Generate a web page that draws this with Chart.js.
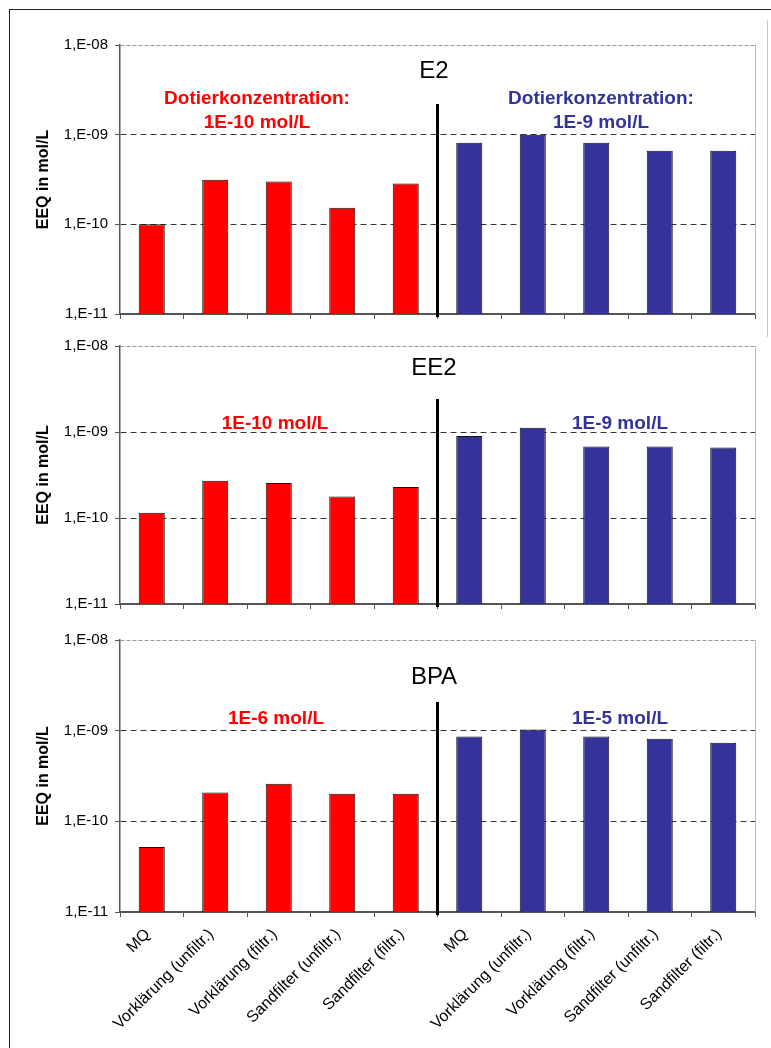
<!DOCTYPE html>
<html>
<head>
<meta charset="utf-8">
<script src="https://cdn.jsdelivr.net/npm/chart.js@4"></script>
<style>
  body { margin: 0; background: #fff; }
  #wrap { position: relative; width: 771px; height: 1048px; overflow: hidden; }
  canvas { position: absolute; left: 0; }
  .frame { position: absolute; left: 9px; top: 9px; width: 800px; height: 1100px;
           border-left: 1.5px solid #222; border-top: 1.5px solid #222; }
  .side { position: absolute; left: 767px; top: 20px; width: 0; height: 317px; border-left: 1px solid #c8c8c8; }
</style>
</head>
<body>
<div id="wrap">
  <div class="frame"></div>
  <div class="side"></div>
  <canvas id="c1" width="771" height="330" style="top:0"></canvas>
  <canvas id="c2" width="771" height="290" style="top:330px"></canvas>
  <canvas id="c3" width="771" height="428" style="top:620px"></canvas>
</div>
<script>
// Data
let categories = ["MQ", "Vorklärung (unfiltr.)", "Vorklärung (filtr.)", "Sandfilter (unfiltr.)", "Sandfilter (filtr.)",
                  "MQ", "Vorklärung (unfiltr.)", "Vorklärung (filtr.)", "Sandfilter (unfiltr.)", "Sandfilter (filtr.)"];
let e2Values  = [1.0e-10, 3.15e-10, 3.0e-10, 1.53e-10, 2.85e-10, 8.1e-10, 1.0e-9, 8.1e-10, 6.6e-10, 6.6e-10];
let ee2Values = [1.15e-10, 2.71e-10, 2.55e-10, 1.78e-10, 2.3e-10, 9.0e-10, 1.12e-9, 6.8e-10, 6.8e-10, 6.6e-10];
let bpaValues = [5.2e-11, 2.08e-10, 2.6e-10, 2.01e-10, 2.01e-10, 8.6e-10, 1.03e-9, 8.6e-10, 8.15e-10, 7.35e-10];
let yTickValues = [1e-11, 1e-10, 1e-9, 1e-8];
let yTickLabels = ["1,E-11", "1,E-10", "1,E-09", "1,E-08"];

let red = "#ff0000";
let blue = "#333399";
let barColors = categories.map((c, i) => i < 5 ? red : blue);
let FONT = "'Liberation Sans', Arial, sans-serif";

// titles, dosing texts and the black divider between the two groups
const panelText = {
    id: "panelText",
    afterDatasetsDraw(chart, args, o) {
        const ctx = chart.ctx;
        const a = chart.chartArea;
        const x = chart.scales.x;
        ctx.save();
        // light plot border on the right
        ctx.strokeStyle = "#bbb";
        ctx.lineWidth = 1;
        ctx.beginPath();
        ctx.moveTo(a.right + 0.5, a.top);
        ctx.lineTo(a.right + 0.5, a.bottom);
        ctx.stroke();
        // divider
        const xd = (x.getPixelForValue(4) + x.getPixelForValue(5)) / 2;
        ctx.strokeStyle = "#000";
        ctx.lineWidth = 3;
        ctx.beginPath();
        ctx.moveTo(xd, o.dividerTop);
        ctx.lineTo(xd, a.bottom + 3);
        ctx.stroke();
        ctx.textAlign = "center";
        ctx.textBaseline = "middle";
        ctx.fillStyle = "#000";
        ctx.font = "24px " + FONT;
        ctx.fillText(o.title, o.titleX, o.titleY);
        ctx.font = "bold 19px " + FONT;
        ctx.fillStyle = red;
        o.redLines.forEach((t, i) => ctx.fillText(t, o.redX, o.textY + i * 23.5));
        ctx.fillStyle = blue;
        o.blueLines.forEach((t, i) => ctx.fillText(t, o.blueX, o.textY + i * 23.5));
        ctx.restore();
    }
};

function makePanel(id, values, topPad, xHeight, showLabels, text) {
    new Chart(document.getElementById(id), {
        type: "bar",
        data: {
            labels: categories,
            datasets: [{
                data: values,
                backgroundColor: barColors,
                borderColor: "#111",
                borderWidth: 1,
                borderSkipped: "bottom",
                categoryPercentage: 1,
                barPercentage: 0.41
            }]
        },
        options: {
            responsive: false,
            animation: false,
            layout: { padding: { left: 10, right: 16, top: topPad, bottom: 0 } },
            plugins: { legend: { display: false }, tooltip: { enabled: false }, panelText: text },
            scales: {
                x: {
                    afterFit: s => { s.height = xHeight; },
                    grid: { display: true, drawOnChartArea: false, drawTicks: true, tickLength: 5, tickColor: "#555", offset: true },
                    border: { display: true, color: "#555", width: 2 },
                    ticks: {
                        display: showLabels,
                        autoSkip: false,
                        minRotation: 45,
                        maxRotation: 45,
                        padding: 8,
                        labelOffset: -4,
                        color: "#000",
                        font: { family: FONT, size: 16 }
                    }
                },
                y: {
                    type: "logarithmic",
                    min: 1e-11,
                    max: 1e-8,
                    afterFit: s => { s.width = 110; },
                    afterBuildTicks: s => { s.ticks = yTickValues.map(v => ({ value: v })); },
                    grid: {
                        color: c => c.tick && c.tick.value === 1e-11 ? "rgba(0,0,0,0)" : (c.tick && c.tick.value === 1e-8 ? "#999" : "#333"),
                        tickColor: "#555",
                        tickLength: 5,
                        lineWidth: 1
                    },
                    border: {
                        display: true,
                        color: "#555",
                        width: 1.5,
                        dash: c => c.tick && c.tick.value === 1e-8 ? [4, 2] : [6, 4]
                    },
                    ticks: {
                        padding: 7,
                        color: "#000",
                        font: { family: FONT, size: 15 },
                        callback: (v, i) => yTickLabels[i]
                    },
                    title: {
                        display: true,
                        text: "EEQ in mol/L",
                        color: "#000",
                        font: { family: FONT, size: 16, weight: "bold" },
                        padding: { top: 24, bottom: 0 }
                    }
                }
            }
        },
        plugins: [panelText]
    });
}

// E2
makePanel("c1", e2Values, 45, 14, false, {
    title: "E2", titleX: 434, titleY: 71,
    redLines: ["Dotierkonzentration:", "1E-10 mol/L"], redX: 257,
    blueLines: ["Dotierkonzentration:", "1E-9 mol/L"], blueX: 601,
    textY: 99, dividerTop: 104
});

// EE2
makePanel("c2", ee2Values, 12, 6, false, {
    title: "EE2", titleX: 434, titleY: 38,
    redLines: ["1E-10 mol/L"], redX: 275,
    blueLines: ["1E-9 mol/L"], blueX: 620,
    textY: 94, dividerTop: 69
});

// BPA
makePanel("c3", bpaValues, 20, 136, true, {
    title: "BPA", titleX: 434, titleY: 57,
    redLines: ["1E-6 mol/L"], redX: 276,
    blueLines: ["1E-5 mol/L"], blueX: 620,
    textY: 99, dividerTop: 82
});
</script>
</body>
</html>
